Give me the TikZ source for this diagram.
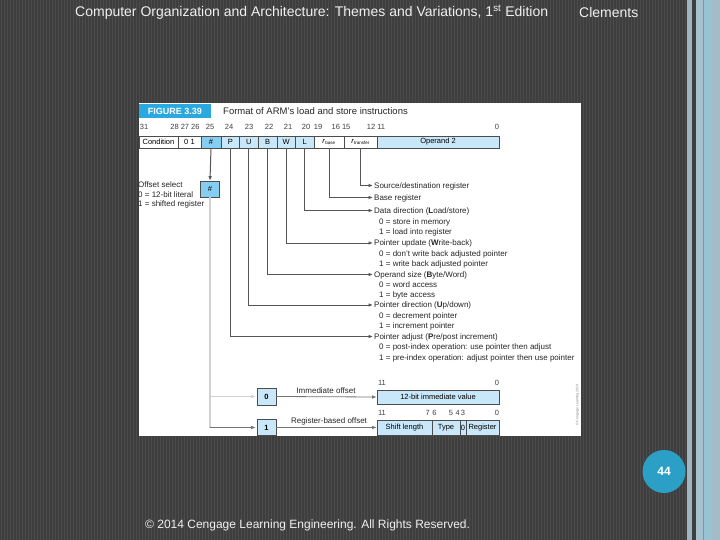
\documentclass[tikz,border=0pt]{standalone}
\usepackage{fontspec}
\setmainfont{Liberation Sans}
\usetikzlibrary{arrows.meta}
\definecolor{bgdark}{HTML}{3E3E3E}
\definecolor{bgstripe}{HTML}{4B4B4B}
\definecolor{figblue}{HTML}{2AA8E0}
\definecolor{fhash}{HTML}{86CEF1}
\definecolor{flight}{HTML}{C8E7F8}
\definecolor{circblue}{HTML}{2B9FC5}
\definecolor{stripA}{HTML}{9FB6C2}
\definecolor{stripB}{HTML}{A6C2CF}
\definecolor{stripC}{HTML}{6E9DB3}
\definecolor{stripD}{HTML}{97C3D3}
\definecolor{stripE}{HTML}{A3BCC8}
\definecolor{lnk}{HTML}{555555}
\tikzset{
  fld/.style={draw=black!70, line width=0.6pt, minimum height=12pt, inner sep=0pt, font=\fontsize{7.5}{8}\selectfont},
  bitn/.style={inner sep=0pt, text=black!75, font=\fontsize{7.5}{8}\selectfont},
  txt/.style={inner sep=0pt, anchor=west, text height=5.5pt, text depth=0pt, text=black!85, font=\fontsize{8}{9}\selectfont},
  tip/.style={-{Latex[length=4.5pt,width=3.6pt]}},
  conn/.style={draw=lnk, line width=1pt, shorten >=1pt, tip},
  gline/.style={draw=black!18, line width=1.4pt},
  slidetxt/.style={inner sep=0pt, text=white!94!black},
}
\begin{document}
\begin{tikzpicture}[x=1pt,y=-1pt]
\useasboundingbox (0,0) rectangle (720,540);
% slide background
\fill[bgdark] (0,0) rectangle (720,540);
\foreach \i in {1,4,...,685} \fill[bgstripe] (\i,0) rectangle (\i+1,540);
\fill[stripA] (687,0) rectangle (692,540);
\fill[stripB] (696,0) rectangle (703,540);
\fill[stripC] (703,0) rectangle (704,540);
\fill[stripD] (704,0) rectangle (712,540);
\fill[stripE] (712,0) rectangle (720,540);
% header / footer
\node[slidetxt, font=\fontsize{14}{15}\selectfont, anchor=west] (title) at (75,12)
  {Computer Organization and Architecture: Themes and Variations, 1\textsuperscript{st} Edition};
\node[slidetxt, font=\fontsize{14}{15}\selectfont, anchor=west] (author) at (579,12) {Clements};
\node[slidetxt, font=\fontsize{12}{13}\selectfont, anchor=west] (copy) at (145,525)
  {© 2014 Cengage Learning Engineering. All Rights Reserved.};
\node[circle, fill=circblue, minimum size=43pt, inner sep=0pt, text=white, font=\bfseries\fontsize{12}{13}\selectfont] (page) at (664,471.5) {44};
% figure panel
\fill[white] (139,103) rectangle (581,436);
\node[fill=figblue, minimum width=72pt, minimum height=14pt, inner sep=0pt, text=white, font=\bfseries\fontsize{9}{10}\selectfont] (fig) at (175,111) {FIGURE 3.39};
\node[inner sep=0pt, anchor=west, text=black!85, font=\fontsize{9.5}{10}\selectfont] (cap) at (223,111) {Format of ARM's load and store instructions};
% bit numbers
\node[bitn] (b31) at (144,127) {31};
\node[bitn] (b28) at (185,127) {28 27 26};
\node[bitn] (b25) at (210,127) {25};
\node[bitn] (b24) at (229,127) {24};
\node[bitn] (b23) at (249,127) {23};
\node[bitn] (b22) at (269,127) {22};
\node[bitn] (b21) at (288,127) {21};
\node[bitn] (b20) at (306,127) {20};
\node[bitn] (b19) at (318,127) {19};
\node[bitn] (b16) at (341,127) {16 15};
\node[bitn] (b12) at (376,127) {12 11};
\node[bitn] (b0) at (497,127) {0};
% fields
\node[fld, minimum width=39pt] (cond) at (158.5,142) {Condition};
\node[fld, minimum width=23pt] (zo) at (189.5,142) {0\,\,1};
\node[fld, minimum width=20pt, fill=fhash] (hsh) at (211,142) {\#};
\node[fld, minimum width=18.6pt, fill=flight] (P) at (230.3,142) {P};
\node[fld, minimum width=18.6pt, fill=flight] (U) at (248.9,142) {U};
\node[fld, minimum width=18.6pt, fill=flight] (B) at (267.5,142) {B};
\node[fld, minimum width=18.6pt, fill=flight] (W) at (286.1,142) {W};
\node[fld, minimum width=18.6pt, fill=flight] (L) at (304.7,142) {L};
\node[fld, minimum width=30pt] (rb) at (329,142) {\textit{r}\textsubscript{\fontsize{4.5}{5}\selectfont base}};
\node[fld, minimum width=33pt] (rt) at (360.5,142) {\textit{r}\textsubscript{\fontsize{4.5}{5}\selectfont transfer}};
\node[fld, minimum width=122pt, fill=flight] (op) at (438,142) {Operand 2};
% descriptions
\node[txt] (sdr) at (374,185.5) {Source/destination register};
\node[txt] (base) at (374,197.5) {Base register};
\node[txt] (dd) at (374,210.5) {Data direction (\textbf{L}oad/store)};
\node[txt] (dd0) at (379,221.5) {0 = store in memory};
\node[txt] (dd1) at (379,232) {1 = load into register};
\node[txt] (pu) at (374,243) {Pointer update (\textbf{W}rite-back)};
\node[txt] (pu0) at (379,253.5) {0 = don't write back adjusted pointer};
\node[txt] (pu1) at (379,264) {1 = write back adjusted pointer};
\node[txt] (os) at (374,274.5) {Operand size (\textbf{B}yte/Word)};
\node[txt] (os0) at (379,284.5) {0 = word access};
\node[txt] (os1) at (379,294.5) {1 = byte access};
\node[txt] (pd) at (374,305) {Pointer direction (\textbf{U}p/down)};
\node[txt] (pd0) at (379,315.5) {0 = decrement pointer};
\node[txt] (pd1) at (379,326) {1 = increment pointer};
\node[txt] (pa) at (374,336.5) {Pointer adjust (\textbf{P}re/post increment)};
\node[txt] (pa0) at (379,347) {0 = post-index operation: use pointer then adjust};
\node[txt] (pa1) at (379,357.5) {1 = pre-index operation: adjust pointer then use pointer};
\draw[conn] (rt.south) |- (sdr.west);
\draw[conn] (rb.south) |- (base.west);
\draw[conn] (L.south) |- (dd.west);
\draw[conn] (W.south) |- (pu.west);
\draw[conn] (B.south) |- (os.west);
\draw[conn] (U.south) |- (pd.west);
\draw[conn] (P.south) |- (pa.west);
% offset select
\node[fld, minimum width=19pt, minimum height=16pt, fill=fhash] (hb) at (210,189) {\#};
\node[txt] (osel) at (138,185) {Offset select};
\node[txt] (osel0) at (138,194.5) {0 = 12-bit literal};
\node[txt] (osel1) at (138,204) {1 = shifted register};
\draw[conn, shorten >=0pt] (hsh.south) -- (hb.north);
\node[fld, minimum width=19pt, minimum height=17pt, fill=flight] (zero) at (266.5,396.5) {\bfseries 0};
\node[fld, minimum width=19pt, minimum height=16pt, fill=flight] (one) at (266.5,427.5) {\bfseries 1};
\coordinate (br0) at (hb.south |- zero.west);
\coordinate (br1) at (hb.south |- one.west);
\draw[gline] (hb.south) -- (br1);
\draw[gline, tip, shorten >=1pt] (br0) -- (zero.west);
\draw[draw=black!55, line width=1.3pt, tip, shorten >=1pt] (br1) -- (one.west);
% immediate offset
\node[fld, minimum width=122pt, minimum height=14pt, fill=flight] (imm) at (438,397) {12-bit immediate value};
\node[bitn] (i11) at (382,383) {11};
\node[bitn] (i0) at (497,383) {0};
\draw[draw=black!55, line width=0.8pt, tip] (zero.east) -- (imm.west);
\node[txt, anchor=center] (imml) at (326,391) {Immediate offset};
% register based offset
\node[fld, minimum width=55pt, minimum height=15pt, fill=flight] (sl) at (404.5,427.5) {Shift length};
\node[fld, minimum width=28pt, minimum height=15pt, fill=flight] (ty) at (446,427.5) {Type};
\node[fld, minimum width=6pt, minimum height=15pt, fill=flight] (zb) at (463,427.5) {0};
\node[fld, minimum width=33pt, minimum height=15pt, fill=flight] (rg) at (482.5,427.5) {Register};
\node[bitn] (r11) at (382,413) {11};
\node[bitn] (r76) at (431,413) {7\,\,6};
\node[bitn] (r543) at (457,413) {5\,\,4\,3};
\node[bitn] (r0) at (497,413) {0};
\draw[draw=black!55, line width=0.8pt, tip] (one.east) -- (sl.west);
\node[txt, anchor=center] (regl) at (329,420.5) {Register-based offset};
\node[inner sep=0pt, rotate=90, text=black!50, font=\fontsize{3.5}{4}\selectfont] (cr) at (577.5,405) {© Cengage Learning 2014};
\end{tikzpicture}
\end{document}
